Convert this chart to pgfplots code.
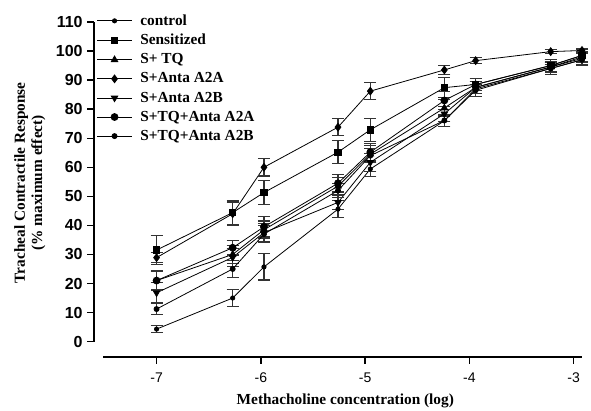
\documentclass[border=0pt]{standalone}
\usepackage{pgfplots}
\pgfplotsset{compat=1.18}
\usepackage{pgfplotstable}
\usepackage{fontspec}
\setmainfont{Liberation Serif}
\newfontfamily\arial{Liberation Sans}

\pgfplotstableread{
x y e
-7.00 4.3 1.2
-6.27 15.0 3.0
-5.97 25.7 4.5
-5.26 45.6 3.0
-4.95 59.4 2.5
-4.24 76.0 2.0
-3.94 87.0 1.5
-3.22 94.0 1.5
-2.92 97.0 2.0
}\control
\pgfplotstableread{
x y e
-7.00 31.5 5.0
-6.27 44.4 4.0
-5.97 51.3 4.0
-5.26 65.2 4.0
-4.95 72.9 4.0
-4.24 87.4 3.5
-3.94 88.5 2.0
-3.22 95.0 2.0
-2.92 98.5 2.0
}\sens
\pgfplotstableread{
x y e
-7.00 21.0 3.0
-6.27 30.0 3.0
-5.97 38.5 3.0
-5.26 53.5 3.0
-4.95 64.5 3.0
-4.24 80.4 3.0
-3.94 87.5 2.0
-3.22 94.5 2.0
-2.92 98.0 2.0
}\stq
\pgfplotstableread{
x y e
-7.00 28.9 1.8
-6.27 44.0 4.0
-5.97 60.0 3.0
-5.26 73.8 3.0
-4.95 86.2 3.0
-4.24 93.5 1.5
-3.94 96.7 1.0
-3.22 99.8 0.8
-2.92 100.2 0.8
}\santaA
\pgfplotstableread{
x y e
-7.00 16.8 3.5
-6.27 29.0 3.0
-5.97 37.5 3.0
-5.26 47.9 2.5
-4.95 61.7 3.0
-4.24 78.4 2.5
-3.94 87.5 2.0
-3.22 94.5 1.5
-2.92 97.5 2.0
}\santaB
\pgfplotstableread{
x y e
-7.00 21.0 3.5
-6.27 32.3 2.5
-5.97 39.5 3.5
-5.26 54.5 3.0
-4.95 65.2 3.0
-4.24 83.0 3.0
-3.94 88.5 2.0
-3.22 95.0 2.0
-2.92 98.5 2.0
}\stqA
\pgfplotstableread{
x y e
-7.00 11.2 2.0
-6.27 25.0 3.0
-5.97 37.0 3.0
-5.26 52.0 2.5
-4.95 64.0 2.5
-4.24 76.1 2.0
-3.94 86.5 2.0
-3.22 94.0 2.0
-2.92 97.0 2.0
}\stqB

\begin{document}
\begin{tikzpicture}
\useasboundingbox (-70.5pt,-39.75pt) rectangle (372.75pt,267.75pt);
\begin{axis}[
  scale only axis,
  width=366pt, height=251.25pt,
  xmin=-7.6, xmax=-2.92,
  ymin=-5.3, ymax=110,
  axis x line*=bottom, axis y line*=left,
  axis line style={draw=none},
  xtick={-7,-6,-5,-4,-3},
  xticklabels={-7,-6,-5,-4,-3},
  ytick={0,10,...,110},
  tick align=outside,
  major tick length=5pt,
  tick style={line width=1pt, black},
  /pgf/number format/assume math mode=true,
  yticklabel style={font=\arial\bfseries\fontsize{12}{14}\selectfont},
  xticklabel style={font=\arial\fontsize{10.5}{12}\selectfont, yshift=-3pt},
  xlabel={\textbf{Methacholine concentration (log)}},
  ylabel={\begin{tabular}{c}\textbf{Tracheal Contractile Response}\\\textbf{(\% maximum effect)}\end{tabular}},
  every axis x label/.style={at={(rel axis cs:0.515,0)}, yshift=-33pt, anchor=center, font=\bfseries\fontsize{11.5}{13}\selectfont},
  every axis y label/.style={at={(rel axis cs:0,0.52)}, xshift=-48pt, rotate=90, anchor=center, font=\bfseries\fontsize{11.5}{13}\selectfont},
  legend style={at={(0.003,1.035)}, anchor=north west, draw=none, fill=none,
    font=\bfseries\fontsize{11.5}{13}\selectfont, row sep=1.2pt, inner sep=1pt},
  legend cell align=left,
  legend image code/.code={\draw[mark repeat=2,mark phase=2] plot coordinates {(0cm,0cm)(0.45cm,0cm)(0.9cm,0cm)}; \path (1.05cm,0cm);},
  every axis plot/.append style={black, solid, line width=0.6pt,
    error bars/y dir=both, error bars/y explicit,
    error bars/error bar style={line width=0.8pt, black!80, solid},
    error bars/error mark options={rotate=90, mark size=4.5pt, line width=0.8pt, black!80, solid}},
  clip=false,
]
\addplot[black, mark=*, mark size=1.6pt, mark options={fill=black, solid}] table[x=x, y=y, y error=e]{\control};
\addlegendentry{\textbf{control}}
\addplot[black, mark=square*, mark size=2.4pt, mark options={fill=black, solid}] table[x=x, y=y, y error=e]{\sens};
\addlegendentry{\textbf{Sensitized}}
\addplot[black, mark=triangle*, mark size=2.8pt, mark options={fill=black, solid}] table[x=x, y=y, y error=e]{\stq};
\addlegendentry{\textbf{S+ TQ}}
\addplot[black, mark=diamond*, mark size=2.9pt, mark options={fill=black, solid}] table[x=x, y=y, y error=e]{\santaA};
\addlegendentry{\textbf{S+Anta A2A}}
\addplot[black, mark=triangle*, mark size=2.8pt, mark options={fill=black, solid, rotate=180}] table[x=x, y=y, y error=e]{\santaB};
\addlegendentry{\textbf{S+Anta A2B}}
\addplot[black, mark=*, mark size=2.6pt, mark options={fill=black, solid}] table[x=x, y=y, y error=e]{\stqA};
\addlegendentry{\textbf{S+TQ+Anta A2A}}
\addplot[black, mark=*, mark size=1.9pt, mark options={fill=black, solid}] table[x=x, y=y, y error=e]{\stqB};
\addlegendentry{\textbf{S+TQ+Anta A2B}}
\draw[line width=1.2pt] (axis cs:-7.6,0) -- (axis cs:-7.6,110);
\draw[line width=1.2pt] (axis cs:-7.51,-5.3) -- (axis cs:-2.92,-5.3);
\end{axis}
\end{tikzpicture}
\end{document}
